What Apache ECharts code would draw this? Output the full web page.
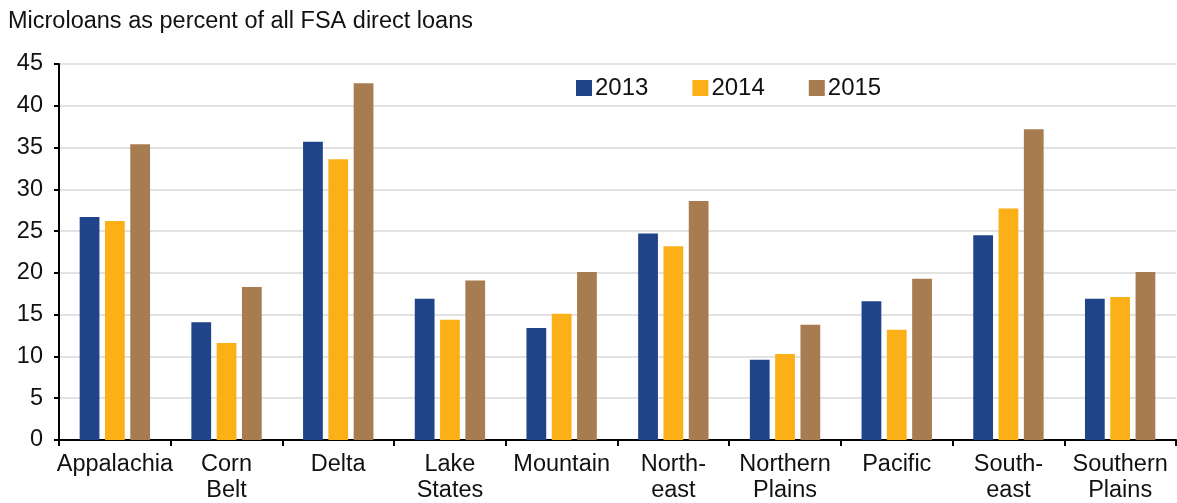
<!DOCTYPE html>
<html>
<head>
<meta charset="utf-8">
<script src="https://cdn.jsdelivr.net/npm/echarts@6/dist/echarts.min.js"></script>
<style>
html,body{margin:0;padding:0;background:#fff;}
#chart{width:1177px;height:503px;}
</style>
</head>
<body>
<div id="chart"></div>
<script>
var categories = ['Appalachia', 'Corn\nBelt', 'Delta', 'Lake\nStates', 'Mountain', 'North-\neast', 'Northern\nPlains', 'Pacific', 'South-\neast', 'Southern\nPlains'];
var values2013 = [26.7, 14.1, 35.7, 16.9, 13.4, 24.7, 9.6, 16.6, 24.5, 16.9];
var values2014 = [26.2, 11.6, 33.6, 14.4, 15.1, 23.2, 10.3, 13.2, 27.7, 17.1];
var values2015 = [35.4, 18.3, 42.7, 19.1, 20.1, 28.6, 13.8, 19.3, 37.2, 20.1];
var seriesNames = ['2013', '2014', '2015'];
var colors = ['#1f4489', '#fcb017', '#a77c50'];

var font = '"Liberation Sans", Arial, Helvetica, sans-serif';
var chart = echarts.init(document.getElementById('chart'), null, {renderer: 'canvas'});
var data = [values2013, values2014, values2015];
chart.setOption({
  animation: false,
  backgroundColor: '#ffffff',
  title: {
    text: 'Microloans as percent of all FSA direct loans',
    left: 3, top: 5,
    textStyle: {fontFamily: font, fontSize: 23.5, fontWeight: 'normal', color: '#111'}
  },
  legend: {
    data: seriesNames,
    left: 576, top: 76, padding: 0,
    itemWidth: 16, itemHeight: 16, itemGap: 44,
    icon: 'rect',
    textStyle: {fontFamily: font, fontSize: 24, color: '#111', padding: [0, 0, 0, -2]}
  },
  grid: {left: 59, right: 1, top: 64, bottom: 63, containLabel: false, outerBoundsMode: 'none'},
  xAxis: {
    type: 'category',
    data: categories,
    axisLine: {lineStyle: {color: '#000', width: 2}},
    axisTick: {show: true, alignWithLabel: false, length: 6, lineStyle: {color: '#000', width: 2}},
    axisLabel: {fontFamily: font, fontSize: 23.5, color: '#111', lineHeight: 26, margin: 12, interval: 0}
  },
  yAxis: {
    type: 'value',
    min: 0, max: 45, interval: 5,
    axisLine: {show: true, lineStyle: {color: '#000', width: 2}},
    axisTick: {show: true, length: 5, inside: false, lineStyle: {color: '#000', width: 2}},
    axisLabel: {fontFamily: font, fontSize: 23.5, color: '#111', margin: 16},
    splitLine: {show: true, lineStyle: {color: '#d9d9d9', width: 1.5}}
  },
  series: seriesNames.map(function (n, i) {
    return {
      name: n,
      type: 'bar',
      data: data[i],
      barGap: '28%',
      barCategoryGap: '37%',
      itemStyle: {color: colors[i]}
    };
  })
});
</script>
</body>
</html>
